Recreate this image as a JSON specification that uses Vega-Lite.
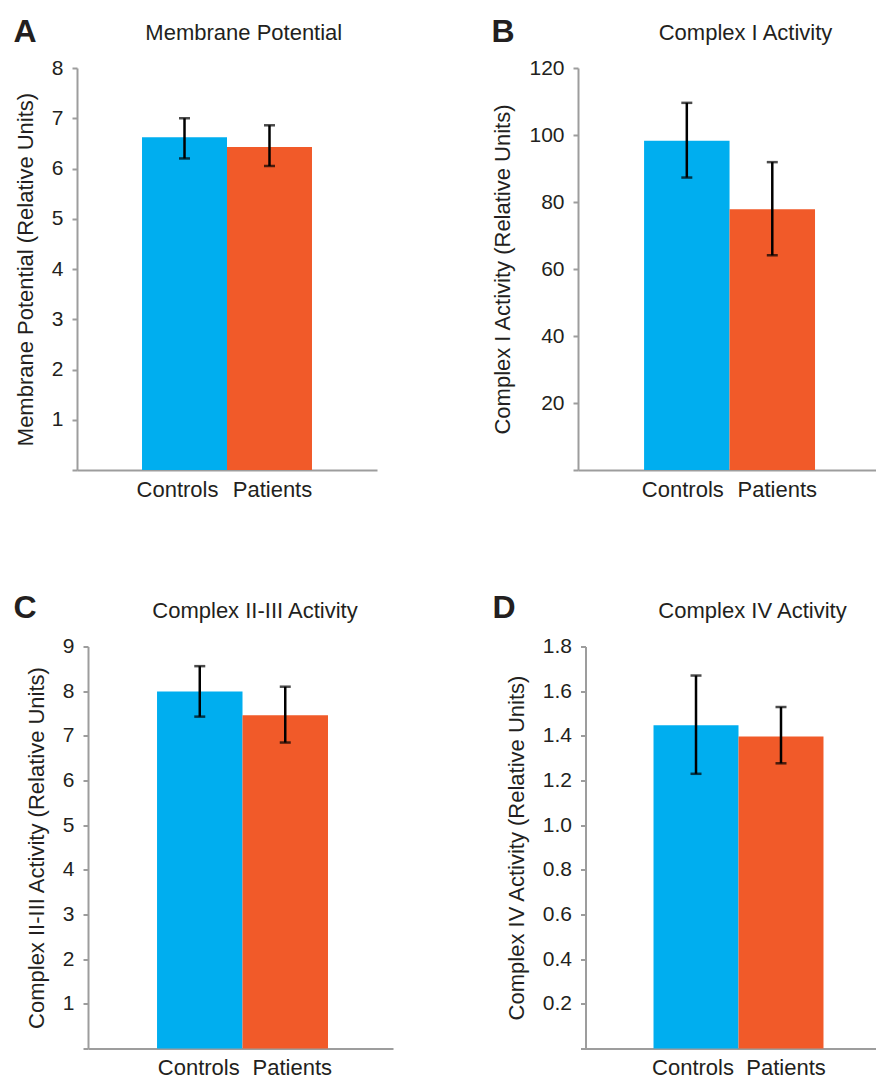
{
  "$schema": "https://vega.github.io/schema/vega-lite/v6.json",
  "padding": {"left": 13, "top": 15, "right": 0, "bottom": 0},
  "background": "white",
  "config": {
    "font": "Liberation Sans",
    "view": {"stroke": null},
    "axis": {
      "grid": false,
      "labelFont": "Liberation Sans",
      "titleFont": "Liberation Sans",
      "labelFontSize": 21,
      "titleFontSize": 22,
      "titleFontWeight": "normal",
      "labelColor": "#231f20",
      "titleColor": "#231f20",
      "domainColor": "#9d9d9d",
      "tickColor": "#9d9d9d",
      "domainWidth": 2,
      "tickWidth": 2
    },
    "title": {"font": "Liberation Sans", "fontSize": 22, "fontWeight": "normal", "color": "#231f20", "anchor": "middle", "frame": "group", "baseline": "alphabetic", "offset": 0}
  },
  "vconcat": [
    {
      "hconcat": [
        {
          "width": 289, "height": 402,
          "title": {"text": "Membrane Potential", "dx": 11.3, "dy": 34},
          "data": {"values": [
            {"group": "Controls", "value": 6.62, "lo": 6.2, "hi": 7.0},
            {"group": "Patients", "value": 6.43, "lo": 6.05, "hi": 6.86}
          ]},
          "layer": [
            {
              "mark": {"type": "bar"},
              "encoding": {
                "x": {"field": "group", "type": "nominal", "scale": {"range": [-11, 289], "paddingInner": 0, "paddingOuter": 0.765, "align": 0.5}, "axis": {"title": null, "labelAngle": 0, "ticks": false, "tickSize": 0, "labelPadding": 9, "labelFontSize": 22, "labelOffset": {"condition": {"test": "datum.value === 'Controls'", "value": -7}, "value": 3}}},
                "y": {"field": "value", "type": "quantitative", "scale": {"domain": [0, 8], "nice": false}, "axis": {"title": "Membrane Potential (Relative Units)", "offset": 11, "values": [0, 1, 2, 3, 4, 5, 6, 7, 8], "labelExpr": "datum.value == 0 ? '' : datum.label", "tickSize": 5, "labelPadding": 9, "titlePadding": 14}},
                "color": {"field": "group", "type": "nominal", "scale": {"domain": ["Controls", "Patients"], "range": ["#00aeef", "#f15a29"]}, "legend": null}
              }
            },
            {
              "mark": {"type": "errorbar", "color": "black", "thickness": 2.5, "ticks": {"size": 11, "thickness": 2.5, "color": "black"}},
              "encoding": {
                "x": {"field": "group", "type": "nominal", "axis": {"orient": "top", "labels": false, "ticks": false, "domain": false, "title": "A", "titleX": -75, "titleY": -27, "titleAlign": "left", "titleBaseline": "alphabetic", "titleAngle": 0, "titleFontSize": 32, "titleFontWeight": "bold"}},
                "y": {"field": "lo", "type": "quantitative", "axis": {"title": "Membrane Potential (Relative Units)", "offset": 11, "values": [0, 1, 2, 3, 4, 5, 6, 7, 8], "labelExpr": "datum.value == 0 ? '' : datum.label", "tickSize": 5, "labelPadding": 9, "titlePadding": 14}},
                "y2": {"field": "hi"}
              }
            }
          ],
          "resolve": {"axis": {"x": "independent"}}
        },
        {
          "width": 299, "height": 402,
          "title": {"text": "Complex I Activity", "dx": 18, "dy": 34},
          "data": {"values": [
            {"group": "Controls", "value": 98.3, "lo": 87.3, "hi": 109.6},
            {"group": "Patients", "value": 77.8, "lo": 64.1, "hi": 91.9}
          ]},
          "layer": [
            {
              "mark": {"type": "bar"},
              "encoding": {
                "x": {"field": "group", "type": "nominal", "scale": {"paddingInner": 0, "paddingOuter": 0.749, "align": 0.516}, "axis": {"title": null, "labelAngle": 0, "ticks": false, "tickSize": 0, "labelPadding": 9, "labelFontSize": 22, "labelOffset": {"condition": {"test": "datum.value === 'Controls'", "value": -4}, "value": 5}}},
                "y": {"field": "value", "type": "quantitative", "scale": {"domain": [0, 120], "nice": false}, "axis": {"title": "Complex I Activity (Relative Units)", "values": [0, 20, 40, 60, 80, 100, 120], "labelExpr": "datum.value == 0 ? '' : datum.label", "tickSize": 5, "labelPadding": 9, "titlePadding": 14}},
                "color": {"field": "group", "type": "nominal", "scale": {"domain": ["Controls", "Patients"], "range": ["#00aeef", "#f15a29"]}, "legend": null}
              }
            },
            {
              "mark": {"type": "errorbar", "color": "black", "thickness": 2.5, "ticks": {"size": 11, "thickness": 2.5, "color": "black"}},
              "encoding": {
                "x": {"field": "group", "type": "nominal", "axis": {"orient": "top", "labels": false, "ticks": false, "domain": false, "title": "B", "titleX": -87, "titleY": -27, "titleAlign": "left", "titleBaseline": "alphabetic", "titleAngle": 0, "titleFontSize": 32, "titleFontWeight": "bold"}},
                "y": {"field": "lo", "type": "quantitative", "axis": {"title": "Complex I Activity (Relative Units)", "values": [0, 20, 40, 60, 80, 100, 120], "labelExpr": "datum.value == 0 ? '' : datum.label", "tickSize": 5, "labelPadding": 9, "titlePadding": 14}},
                "y2": {"field": "hi"}
              }
            }
          ],
          "resolve": {"axis": {"x": "independent"}}
        }
      ],
      "spacing": 103
    },
    {
      "hconcat": [
        {
          "width": 305, "height": 402,
          "title": {"text": "Complex II-III Activity", "dx": 14.5, "dy": 35},
          "data": {"values": [
            {"group": "Controls", "value": 7.99, "lo": 7.43, "hi": 8.56},
            {"group": "Patients", "value": 7.46, "lo": 6.85, "hi": 8.1}
          ]},
          "layer": [
            {
              "mark": {"type": "bar"},
              "encoding": {
                "x": {"field": "group", "type": "nominal", "scale": {"paddingInner": 0, "paddingOuter": 0.784, "align": 0.515}, "axis": {"title": null, "labelAngle": 0, "ticks": false, "tickSize": 0, "labelPadding": 9, "labelFontSize": 22, "labelOffset": {"condition": {"test": "datum.value === 'Controls'", "value": -1}, "value": 7}}},
                "y": {"field": "value", "type": "quantitative", "scale": {"domain": [0, 9], "nice": false}, "axis": {"title": "Complex II-III Activity (Relative Units)", "values": [0, 1, 2, 3, 4, 5, 6, 7, 8, 9], "labelExpr": "datum.value == 0 ? '' : datum.label", "tickSize": 5, "labelPadding": 9, "titlePadding": 14}},
                "color": {"field": "group", "type": "nominal", "scale": {"domain": ["Controls", "Patients"], "range": ["#00aeef", "#f15a29"]}, "legend": null}
              }
            },
            {
              "mark": {"type": "errorbar", "color": "black", "thickness": 2.5, "ticks": {"size": 11, "thickness": 2.5, "color": "black"}},
              "encoding": {
                "x": {"field": "group", "type": "nominal", "axis": {"orient": "top", "labels": false, "ticks": false, "domain": false, "title": "C", "titleX": -75, "titleY": -29, "titleAlign": "left", "titleBaseline": "alphabetic", "titleAngle": 0, "titleFontSize": 32, "titleFontWeight": "bold"}},
                "y": {"field": "lo", "type": "quantitative", "axis": {"title": "Complex II-III Activity (Relative Units)", "values": [0, 1, 2, 3, 4, 5, 6, 7, 8, 9], "labelExpr": "datum.value == 0 ? '' : datum.label", "tickSize": 5, "labelPadding": 9, "titlePadding": 14}},
                "y2": {"field": "hi"}
              }
            }
          ],
          "resolve": {"axis": {"x": "independent"}}
        },
        {
          "width": 291, "height": 402,
          "title": {"text": "Complex IV Activity", "dx": 21.5, "dy": 35},
          "data": {"values": [
            {"group": "Controls", "value": 1.447, "lo": 1.23, "hi": 1.67},
            {"group": "Patients", "value": 1.397, "lo": 1.277, "hi": 1.529}
          ]},
          "layer": [
            {
              "mark": {"type": "bar"},
              "encoding": {
                "x": {"field": "group", "type": "nominal", "scale": {"paddingInner": 0, "paddingOuter": 0.712, "align": 0.562}, "axis": {"title": null, "labelAngle": 0, "ticks": false, "tickSize": 0, "labelPadding": 9, "labelFontSize": 22, "labelOffset": {"condition": {"test": "datum.value === 'Controls'", "value": -3}, "value": 5}}},
                "y": {"field": "value", "type": "quantitative", "scale": {"domain": [0, 1.8], "nice": false}, "axis": {"title": "Complex IV Activity (Relative Units)", "values": [0, 0.2, 0.4, 0.6, 0.8, 1.0, 1.2, 1.4, 1.6, 1.8], "format": ".1f", "labelExpr": "datum.value == 0 ? '' : datum.label", "tickSize": 5, "labelPadding": 9, "titlePadding": 14}},
                "color": {"field": "group", "type": "nominal", "scale": {"domain": ["Controls", "Patients"], "range": ["#00aeef", "#f15a29"]}, "legend": null}
              }
            },
            {
              "mark": {"type": "errorbar", "color": "black", "thickness": 2.5, "ticks": {"size": 11, "thickness": 2.5, "color": "black"}},
              "encoding": {
                "x": {"field": "group", "type": "nominal", "axis": {"orient": "top", "labels": false, "ticks": false, "domain": false, "title": "D", "titleX": -93.5, "titleY": -29, "titleAlign": "left", "titleBaseline": "alphabetic", "titleAngle": 0, "titleFontSize": 32, "titleFontWeight": "bold"}},
                "y": {"field": "lo", "type": "quantitative", "axis": {"title": "Complex IV Activity (Relative Units)", "values": [0, 0.2, 0.4, 0.6, 0.8, 1.0, 1.2, 1.4, 1.6, 1.8], "format": ".1f", "labelExpr": "datum.value == 0 ? '' : datum.label", "tickSize": 5, "labelPadding": 9, "titlePadding": 14}},
                "y2": {"field": "hi"}
              }
            }
          ],
          "resolve": {"axis": {"x": "independent"}}
        }
      ],
      "spacing": 98.5
    }
  ],
  "spacing": 91.5
}
